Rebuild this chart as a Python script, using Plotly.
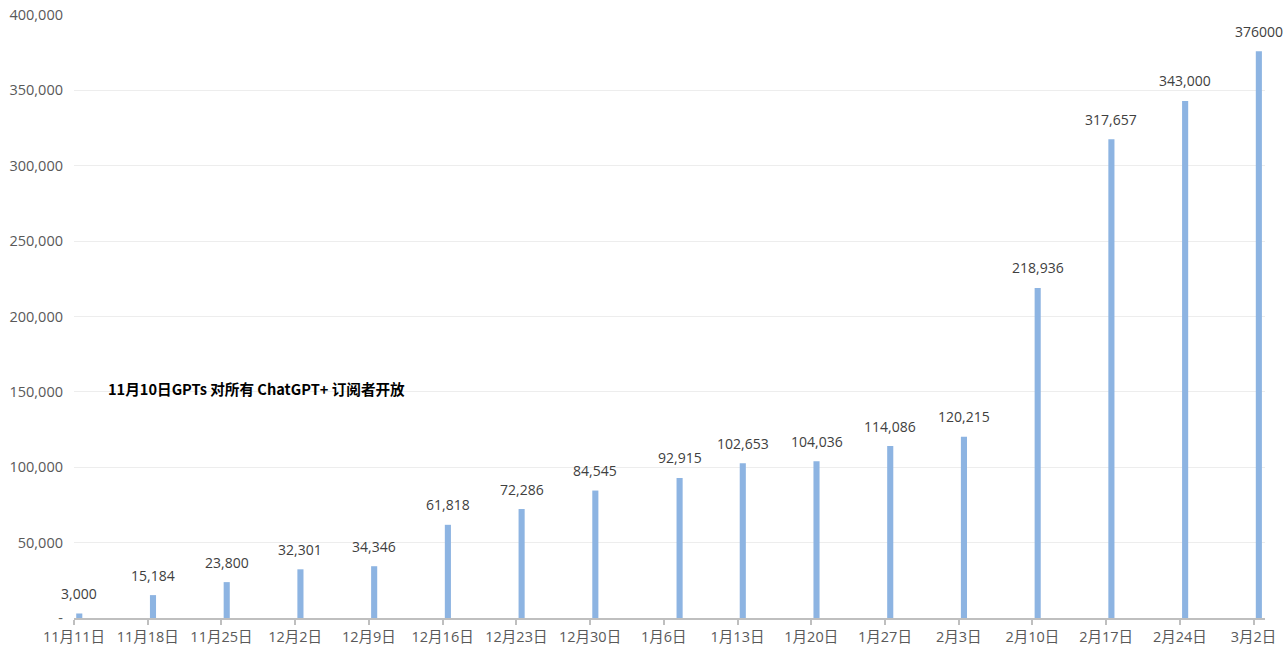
import plotly.graph_objects as go
import pandas as pd

dates = ["2023-11-11", "2023-11-18", "2023-11-25", "2023-12-02", "2023-12-09",
         "2023-12-16", "2023-12-23", "2023-12-30", "2024-01-07", "2024-01-13",
         "2024-01-20", "2024-01-27", "2024-02-03", "2024-02-10", "2024-02-17",
         "2024-02-24", "2024-03-02"]
values = [3000, 15184, 23800, 32301, 34346, 61818, 72286, 84545, 92915, 102653,
          104036, 114086, 120215, 218936, 317657, 343000, 376000]
value_labels = ["3,000", "15,184", "23,800", "32,301", "34,346", "61,818", "72,286",
                "84,545", "92,915", "102,653", "104,036", "114,086", "120,215",
                "218,936", "317,657", "343,000", "376000"]
tick_dates = ["2023-11-11", "2023-11-18", "2023-11-25", "2023-12-02", "2023-12-09",
              "2023-12-16", "2023-12-23", "2023-12-30", "2024-01-06", "2024-01-13",
              "2024-01-20", "2024-01-27", "2024-02-03", "2024-02-10", "2024-02-17",
              "2024-02-24", "2024-03-02"]
tick_labels = ["11月11日", "11月18日", "11月25日", "12月2日", "12月9日", "12月16日",
               "12月23日", "12月30日", "1月6日", "1月13日", "1月20日", "1月27日",
               "2月3日", "2月10日", "2月17日", "2月24日", "3月2日"]
y_ticks = [0, 50000, 100000, 150000, 200000, 250000, 300000, 350000, 400000]
y_tick_labels = ["-", "50,000", "100,000", "150,000", "200,000", "250,000",
                 "300,000", "350,000", "400,000"]
note = "11月10日GPTs 对所有 ChatGPT+ 订阅者开放"

DAY = 86400000
FONT = "Open Sans, Noto Sans CJK SC, sans-serif"
W, H = 1285, 648
ML, MR, MT, MB = 74, 20, 15, 30

fig = go.Figure()
fig.add_trace(go.Bar(
    x=dates, y=values,
    xperiod=DAY, xperiodalignment="middle",
    width=0.58 * DAY,
    marker=dict(color="#8DB4E2", line=dict(width=0)),
    hoverinfo="skip",
))

mid_dates = pd.to_datetime(dates) + pd.Timedelta(hours=12)
for xd, v, lab in zip(mid_dates, values, value_labels):
    fig.add_annotation(x=xd, y=v, xref="x", yref="y", text=lab, showarrow=False,
                       yshift=20, font=dict(family=FONT, size=14, color="#404040"))

fig.add_annotation(x=(106 - ML) / (W - ML - MR), y=(H - MB - 388) / (H - MT - MB),
                   xref="paper", yref="paper", text="<b>" + note + "</b>",
                   showarrow=False, xanchor="left", yanchor="middle",
                   font=dict(family="Noto Sans CJK SC, sans-serif", size=14.6,
                             color="#000000"))

fig.update_layout(
    width=W, height=H,
    margin=dict(l=ML, r=MR, t=MT, b=MB, autoexpand=False),
    paper_bgcolor="white", plot_bgcolor="white",
    showlegend=False,
    font=dict(family=FONT, size=14, color="#595959"),
    xaxis=dict(
        type="date", automargin=False,
        range=["2023-11-11", "2024-03-03 02:00"],
        tickvals=tick_dates, ticktext=tick_labels,
        showgrid=False, showline=True, linecolor="#BFBFBF", linewidth=1.5,
        ticks="outside", ticklen=5, tickcolor="#BFBFBF", tickwidth=1.5,
        tickfont=dict(family=FONT, size=14.5, color="#595959"),
        ticklabeloverflow="allow",
        zeroline=False,
    ),
    yaxis=dict(
        range=[0, 400000], automargin=False,
        tickvals=y_ticks, ticktext=y_tick_labels,
        showgrid=True, gridcolor="#EDEDED", gridwidth=1,
        showline=False, zeroline=False, ticks="",
        tickfont=dict(family=FONT, size=14.5, color="#595959"),
        ticklabelstandoff=10, ticklabeloverflow="allow",
    ),
)

fig.write_html(
    "out.html",
    config={"displayModeBar": False},
    post_script="document.body.style.margin='0';document.body.style.overflow='hidden';",
)
